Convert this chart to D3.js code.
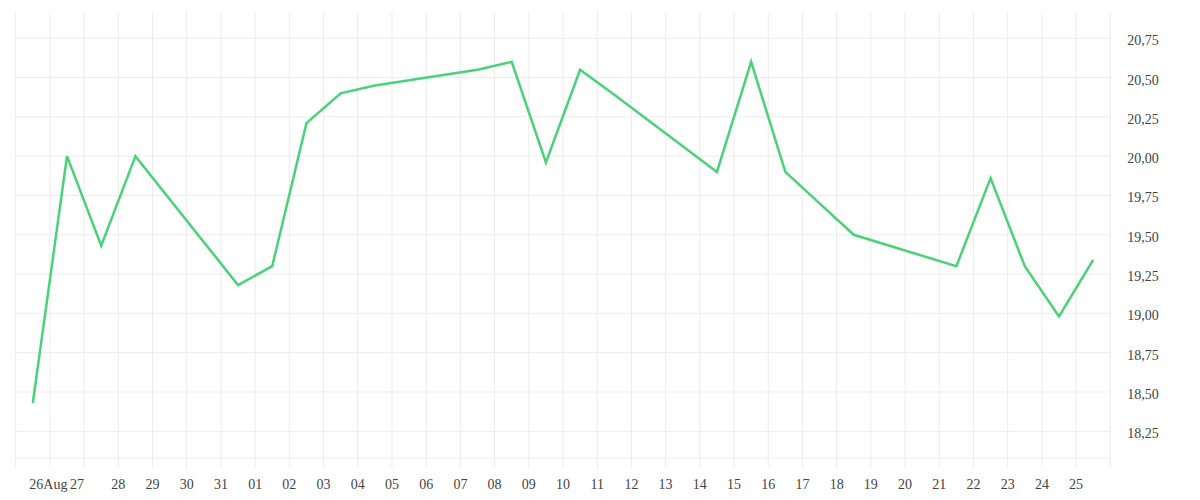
<!DOCTYPE html>
<html>
<head>
<meta charset="utf-8">
<script src="https://cdn.jsdelivr.net/npm/d3@7"></script>
<style>
  html, body { margin: 0; padding: 0; background: #fff; }
  svg { display: block; }
  .lbl { font-family: "Liberation Serif", serif; font-size: 14px; fill: #444; }
</style>
</head>
<body>
<svg id="chart" width="1200" height="500"></svg>
<script>
// ---- data ----
const dates = ["2020-08-25","2020-08-26","2020-08-27","2020-08-28","2020-08-31","2020-09-01",
  "2020-09-02","2020-09-03","2020-09-04","2020-09-07","2020-09-08","2020-09-09","2020-09-10",
  "2020-09-11","2020-09-14","2020-09-15","2020-09-16","2020-09-17","2020-09-18","2020-09-21",
  "2020-09-22","2020-09-23","2020-09-24","2020-09-25"];
const values = [18.43, 20.00, 19.43, 20.00, 19.18, 19.30,
  20.21, 20.40, 20.45, 20.55, 20.60, 19.96, 20.55,
  20.39, 19.90, 20.60, 19.90, 19.70, 19.50, 19.30,
  19.86, 19.30, 18.98, 19.34];
const yTicks = [18.25, 18.5, 18.75, 19.0, 19.25, 19.5, 19.75, 20.0, 20.25, 20.5, 20.75];
const xDomain = ["2020-08-25", "2020-09-26"];
const firstLabel = "26Aug";

(function () {
  // ---- scales ----
  const svg = d3.select("#chart");
  const pLeft = 15.7, pRight = 1110.3, pTop = 12, pBottom = 458;
  const parse = s => new Date(s + "T00:00:00Z");
  const x = d3.scaleUtc().domain(xDomain.map(parse)).range([pLeft, pRight]);
  const y = d3.scaleLinear().domain([18.08, 20.917]).range([pBottom, pTop]);

  const data = dates.map((d, i) => ({ t: new Date(parse(d).getTime() + 12 * 3600 * 1000), v: values[i] }));

  const gridColor = "#ececec";

  // vertical grid (every day)
  const days = d3.utcDay.range(parse(xDomain[0]), d3.utcDay.offset(parse(xDomain[1]), 1));
  svg.append("g").selectAll("line").data(days).join("line")
    .attr("x1", d => x(d)).attr("x2", d => x(d))
    .attr("y1", pTop).attr("y2", pBottom + 10)
    .attr("stroke", gridColor).attr("stroke-width", 1);

  // horizontal grid
  svg.append("g").selectAll("line").data(yTicks).join("line")
    .attr("x1", pLeft).attr("x2", pRight)
    .attr("y1", d => y(d)).attr("y2", d => y(d))
    .attr("stroke", gridColor).attr("stroke-width", 1);
  svg.append("line").attr("x1", pLeft).attr("x2", pRight)
    .attr("y1", pBottom).attr("y2", pBottom)
    .attr("stroke", gridColor).attr("stroke-width", 1);

  // y labels (right side)
  const fmtY = v => d3.format(".2f")(v).replace(".", ",");
  svg.append("g").selectAll("text").data(yTicks).join("text")
    .attr("class", "lbl")
    .attr("x", pRight + 17)
    .attr("y", d => y(d) + 7)
    .text(fmtY);

  // x labels
  const labelDays = days.slice(1, days.length - 1);
  const fmtX = d3.utcFormat("%d");
  svg.append("g").selectAll("text").data(labelDays).join("text")
    .attr("class", "lbl")
    .attr("text-anchor", "middle")
    .attr("x", (d, i) => x(d) + (i === 0 ? -1.5 : i === 1 ? -7 : 0))
    .attr("y", 489)
    .text((d, i) => i === 0 ? firstLabel : fmtX(d));

  // line
  const line = d3.line().x(d => x(d.t)).y(d => y(d.v));
  svg.append("path").datum(data)
    .attr("d", line)
    .attr("fill", "none")
    .attr("stroke", "#4ad27a")
    .attr("stroke-width", 2.5)
    .attr("stroke-linejoin", "miter");
})();
</script>
</body>
</html>
